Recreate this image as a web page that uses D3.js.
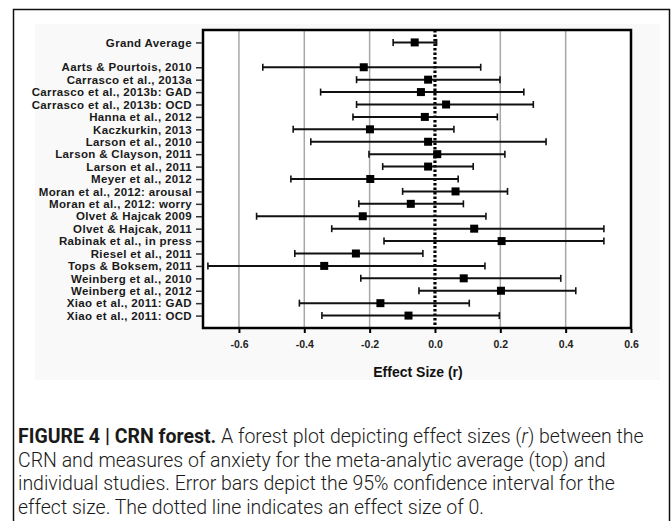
<!DOCTYPE html>
<html>
<head>
<meta charset="utf-8">
<script src="https://cdn.jsdelivr.net/npm/d3@7"></script>
<style>
  body { margin: 0; background: #fff; }
  svg { display: block; }
</style>
</head>
<body>
<script>
// chart data
var studies = ["Grand Average", "Aarts & Pourtois, 2010", "Carrasco et al., 2013a",
  "Carrasco et al., 2013b: GAD", "Carrasco et al., 2013b: OCD", "Hanna et al., 2012",
  "Kaczkurkin, 2013", "Larson et al., 2010", "Larson & Clayson, 2011", "Larson et al., 2011",
  "Meyer et al., 2012", "Moran et al., 2012: arousal", "Moran et al., 2012: worry",
  "Olvet & Hajcak 2009", "Olvet & Hajcak, 2011", "Rabinak et al., in press",
  "Riesel et al., 2011", "Tops & Boksem, 2011", "Weinberg et al., 2010",
  "Weinberg et al., 2012", "Xiao et al., 2011: GAD", "Xiao et al., 2011: OCD"];
var effect = [-0.062, -0.218, -0.021, -0.043, 0.034, -0.031, -0.199, -0.021, 0.007, -0.021,
  -0.198, 0.063, -0.074, -0.221, 0.120, 0.204, -0.242, -0.339, 0.088, 0.202, -0.167, -0.081];
var lower = [-0.128, -0.527, -0.240, -0.350, -0.240, -0.251, -0.434, -0.380, -0.202, -0.160,
  -0.441, -0.099, -0.233, -0.546, -0.316, -0.156, -0.429, -0.695, -0.227, -0.049, -0.415, -0.346];
var upper = [0.005, 0.140, 0.199, 0.272, 0.301, 0.191, 0.058, 0.340, 0.214, 0.117,
  0.071, 0.222, 0.087, 0.156, 0.517, 0.517, -0.037, 0.153, 0.385, 0.431, 0.105, 0.197];
var xTicks = [-0.6, -0.4, -0.2, 0.0, 0.2, 0.4, 0.6];
var gridTicks = [-0.6, -0.4, -0.2, 0.2, 0.4];

var captionLines = [
  [["FIGURE 4 | CRN forest.", true], [" A forest plot depicting effect sizes (", false], ["r", "i"], [") between the", false]],
  [["CRN and measures of anxiety for the meta-analytic average (top) and", false]],
  [["individual studies. Error bars depict the 95% confidence interval for the", false]],
  [["effect size. The dotted line indicates an effect size of 0.", false]]
];

var w = 671, h = 521;
var plotL = 203, plotR = 631, plotT = 30, plotB = 328;

var svg = d3.select("body").append("svg")
  .attr("width", w)
  .attr("height", h);

// outer figure frame (open at the bottom)
svg.append("path")
  .attr("d", "M13.5," + h + "V9.5H669.5V" + h)
  .attr("fill", "none")
  .attr("stroke", "#111")
  .attr("stroke-width", 1.5);

// faint grey image patch behind the chart
svg.append("rect")
  .attr("x", 35).attr("y", 24)
  .attr("width", 625).attr("height", 356)
  .attr("fill", "#f9f9f9");

var x = d3.scaleLinear()
  .domain([-0.71, 0.6])
  .range([plotL, plotR]);

// one empty slot between the average and the studies
var slots = [studies[0], "gap"].concat(studies.slice(1));
var y = d3.scalePoint()
  .domain(slots)
  .range([plotT, plotB])
  .padding(1);

svg.append("rect")
  .attr("x", plotL).attr("y", plotT)
  .attr("width", plotR - plotL).attr("height", plotB - plotT)
  .attr("fill", "#fff");

// vertical grid lines
svg.selectAll(".grid")
  .data(gridTicks)
  .enter()
  .append("line")
  .attr("x1", function(d) { return x(d); })
  .attr("x2", function(d) { return x(d); })
  .attr("y1", plotT)
  .attr("y2", plotB)
  .attr("stroke", "#a8a8a8")
  .attr("stroke-width", 1.5);

// dotted zero line
svg.append("line")
  .attr("x1", x(0)).attr("x2", x(0))
  .attr("y1", plotT).attr("y2", plotB)
  .attr("stroke", "#000")
  .attr("stroke-width", 3.2)
  .attr("stroke-dasharray", "2.6,1.9");

var rows = studies.map(function(s, i) {
  return { name: s, r: effect[i], lo: lower[i], hi: upper[i] };
});

var bars = svg.selectAll(".ci")
  .data(rows)
  .enter()
  .append("g");

bars.append("line")
  .attr("x1", function(d) { return x(d.lo); })
  .attr("x2", function(d) { return x(d.hi); })
  .attr("y1", function(d) { return y(d.name); })
  .attr("y2", function(d) { return y(d.name); })
  .attr("stroke", "#111")
  .attr("stroke-width", 2);

// end caps
bars.selectAll(".cap")
  .data(function(d) { return [d.lo, d.hi].map(function(v) { return { v: v, name: d.name }; }); })
  .enter()
  .append("line")
  .attr("x1", function(d) { return x(d.v); })
  .attr("x2", function(d) { return x(d.v); })
  .attr("y1", function(d) { return y(d.name) - 3.5; })
  .attr("y2", function(d) { return y(d.name) + 3.5; })
  .attr("stroke", "#111")
  .attr("stroke-width", 1.6);

// square markers
bars.append("rect")
  .attr("x", function(d) { return x(d.r) - 4; })
  .attr("y", function(d) { return y(d.name) - 4; })
  .attr("width", 8)
  .attr("height", 8)
  .attr("fill", "#000");

// plot border
svg.append("rect")
  .attr("x", plotL).attr("y", plotT)
  .attr("width", plotR - plotL).attr("height", plotB - plotT)
  .attr("fill", "none")
  .attr("stroke", "#000")
  .attr("stroke-width", 2.5);

// y axis with study names
var yAxis = svg.append("g")
  .attr("transform", "translate(" + (plotL - 1) + ",0)")
  .call(d3.axisLeft(y).tickValues(studies).tickSize(6).tickPadding(4));
yAxis.select(".domain").remove();
yAxis.selectAll("line").attr("stroke", "#333").attr("stroke-width", 1.5);
yAxis.selectAll("text")
  .attr("fill", "#1a1a1a")
  .style("font-family", "'Liberation Sans', Arial, sans-serif")
  .style("font-size", "11.5px")
  .style("letter-spacing", "0.35px")
  .style("font-weight", "700");

// x axis
var xAxis = svg.append("g")
  .attr("transform", "translate(0," + (plotB + 1) + ")")
  .call(d3.axisBottom(x).tickValues(xTicks).tickSize(4).tickPadding(8)
    .tickFormat(function(d) { return d.toFixed(1); }));
xAxis.select(".domain").remove();
xAxis.selectAll("line").attr("stroke", "#000").attr("stroke-width", 2);
xAxis.selectAll("text")
  .attr("fill", "#222")
  .style("font-family", "'Liberation Sans', Arial, sans-serif")
  .style("font-size", "10.5px")
  .style("font-weight", "700");

svg.append("text")
  .attr("x", 418)
  .attr("y", 377)
  .attr("text-anchor", "middle")
  .attr("fill", "#111")
  .style("font-family", "'Liberation Sans', Arial, sans-serif")
  .style("font-size", "14px")
  .style("font-weight", "700")
  .text("Effect Size (r)");

// caption
var cap = svg.append("g")
  .style("font-family", "Roboto, 'Liberation Sans', sans-serif")
  .style("font-size", "16px")
  .attr("fill", "#1a1a1a");

var lines = cap.selectAll("text")
  .data(captionLines)
  .enter()
  .append("text")
  .attr("x", 18)
  .attr("y", function(d, i) { return 443 + i * 23.5; });

lines.selectAll("tspan")
  .data(function(d) { return d; })
  .enter()
  .append("tspan")
  .style("font-weight", function(d) { return d[1] === true ? "700" : "300"; })
  .style("font-style", function(d) { return d[1] === "i" ? "italic" : "normal"; })
  .text(function(d) { return d[0]; });

// fit caption width to the figure column
var first = lines.node().getComputedTextLength();
cap.style("font-size", (16 * 626 / first) + "px");
</script>
</body>
</html>
